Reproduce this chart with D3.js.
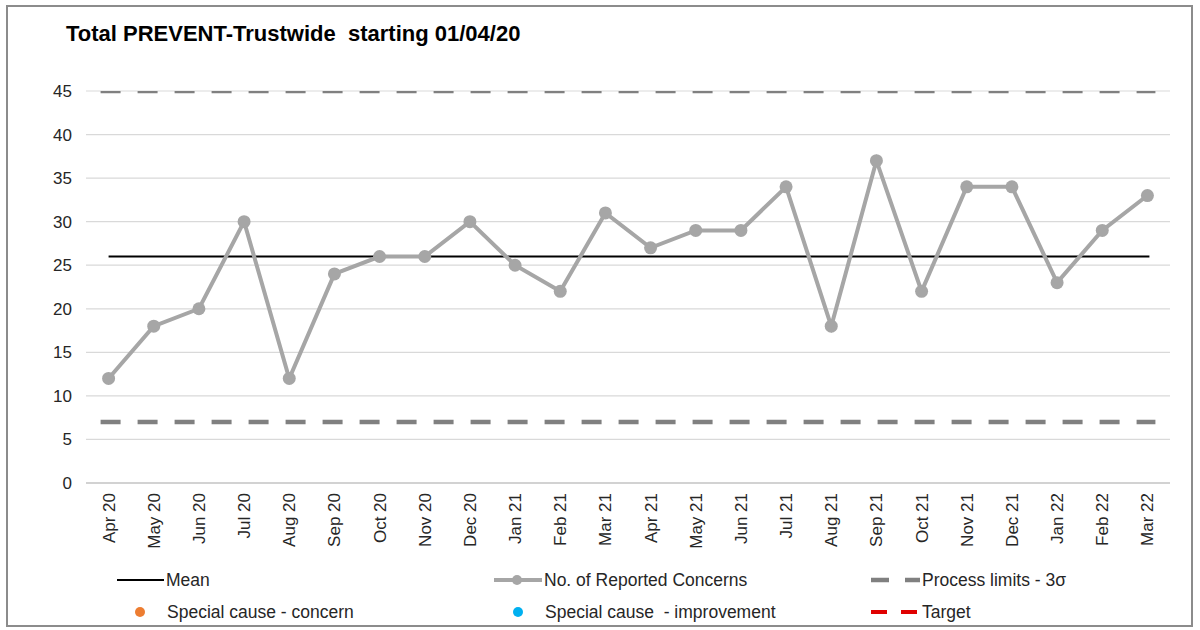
<!DOCTYPE html>
<html>
<head>
<meta charset="utf-8">
<script src="https://cdn.jsdelivr.net/npm/d3@7"></script>
<style>
  body { margin: 0; background: #fff; }
  text { font-family: "Liberation Sans", Arial, sans-serif; white-space: pre; }
</style>
</head>
<body>
<svg id="chart" width="1200" height="630"></svg>
<script>
// data
const months = ["Apr 20", "May 20", "Jun 20", "Jul 20", "Aug 20", "Sep 20", "Oct 20", "Nov 20",
  "Dec 20", "Jan 21", "Feb 21", "Mar 21", "Apr 21", "May 21", "Jun 21", "Jul 21", "Aug 21",
  "Sep 21", "Oct 21", "Nov 21", "Dec 21", "Jan 22", "Feb 22", "Mar 22"];
const concerns = [12, 18, 20, 30, 12, 24, 26, 26, 30, 25, 22, 31, 27, 29, 29, 34, 18, 37, 22, 34, 34, 23, 29, 33];
const meanValue = 26;
const upperLimit = 45;
const lowerLimit = 7;
const yTicks = [0, 5, 10, 15, 20, 25, 30, 35, 40, 45];

const margin = { left: 86, right: 30, top: 91, bottom: 147 };
const width = 1200 - margin.left - margin.right;
const height = 630 - margin.top - margin.bottom;

const svg = d3.select("#chart");

// outer frame
svg.append("rect")
  .attr("x", 7).attr("y", 6)
  .attr("width", 1185).attr("height", 620)
  .attr("fill", "none")
  .attr("stroke", "#8c8c8c")
  .attr("stroke-width", 2);

svg.append("text")
  .attr("x", 66).attr("y", 41)
  .attr("font-size", 22)
  .attr("font-weight", "bold")
  .attr("fill", "#000")
  .text("Total PREVENT-Trustwide  starting 01/04/20");

const xScale = d3.scaleBand().domain(months).range([0, width]);
const yScale = d3.scaleLinear().domain([0, 45]).range([height, 0]);

const g = svg.append("g").attr("transform", `translate(${margin.left},${margin.top})`);

svg.append("clipPath").attr("id", "plot-clip")
  .append("rect").attr("x", 0).attr("y", 0).attr("width", width).attr("height", height);

// gridlines
g.append("g")
  .selectAll("line")
  .data(yTicks)
  .join("line")
  .attr("x1", 0).attr("x2", width)
  .attr("y1", (d) => yScale(d)).attr("y2", (d) => yScale(d))
  .attr("stroke", (d) => d === 0 ? "#a6a6a6" : "#d9d9d9")
  .attr("stroke-width", 1.2);

// y tick labels
g.append("g")
  .selectAll("text")
  .data(yTicks)
  .join("text")
  .attr("x", -14)
  .attr("y", (d) => yScale(d))
  .attr("dy", "0.35em")
  .attr("text-anchor", "end")
  .attr("font-size", 17)
  .attr("fill", "#262626")
  .text((d) => d);

// x tick labels, rotated
g.append("g")
  .selectAll("text")
  .data(months)
  .join("text")
  .attr("transform", (d) => `translate(${xScale(d) + xScale.bandwidth() / 2 + 6},${height + 10}) rotate(-90)`)
  .attr("text-anchor", "end")
  .attr("font-size", 17)
  .attr("fill", "#262626")
  .text((d) => d);

const first = xScale(months[0]) + xScale.bandwidth() / 2;
const last = xScale(months[months.length - 1]) + xScale.bandwidth() / 2;

// process limits
const limits = g.append("g").attr("clip-path", "url(#plot-clip)");
limits.selectAll("line")
  .data([upperLimit, lowerLimit])
  .join("line")
  .attr("x1", first - 8).attr("x2", last + 8)
  .attr("y1", (d) => yScale(d)).attr("y2", (d) => yScale(d))
  .attr("stroke", "#808080")
  .attr("stroke-width", 4.5)
  .attr("stroke-dasharray", "20,17");

// mean line
g.append("line")
  .attr("x1", first).attr("x2", last + 2)
  .attr("y1", yScale(meanValue)).attr("y2", yScale(meanValue))
  .attr("stroke", "#000")
  .attr("stroke-width", 2);

// series
const line = d3.line()
  .x((d, i) => xScale(months[i]) + xScale.bandwidth() / 2)
  .y((d) => yScale(d));

g.append("path")
  .datum(concerns)
  .attr("d", line)
  .attr("fill", "none")
  .attr("stroke", "#a6a6a6")
  .attr("stroke-width", 4);

g.selectAll(".pt")
  .data(concerns)
  .join("circle")
  .attr("class", "pt")
  .attr("cx", (d, i) => xScale(months[i]) + xScale.bandwidth() / 2)
  .attr("cy", (d) => yScale(d))
  .attr("r", 6.5)
  .attr("fill", "#a6a6a6");

// legend
const legend = svg.append("g").attr("font-size", 17.5).attr("fill", "#262626");
const row1 = 580, row2 = 612;

legend.append("line").attr("x1", 117).attr("x2", 164).attr("y1", row1).attr("y2", row1)
  .attr("stroke", "#000").attr("stroke-width", 2);
legend.append("text").attr("x", 166).attr("y", row1).attr("dy", "0.35em").text("Mean");

legend.append("line").attr("x1", 494).attr("x2", 542).attr("y1", row1).attr("y2", row1)
  .attr("stroke", "#a6a6a6").attr("stroke-width", 4);
legend.append("circle").attr("cx", 517).attr("cy", row1).attr("r", 5).attr("fill", "#a6a6a6");
legend.append("text").attr("x", 544).attr("y", row1).attr("dy", "0.35em").text("No. of Reported Concerns");

legend.append("line").attr("x1", 871).attr("x2", 920).attr("y1", row1).attr("y2", row1)
  .attr("stroke", "#808080").attr("stroke-width", 4.5).attr("stroke-dasharray", "18,16");
legend.append("text").attr("x", 922).attr("y", row1).attr("dy", "0.35em").text("Process limits - 3σ");

legend.append("circle").attr("cx", 140).attr("cy", row2).attr("r", 5).attr("fill", "#ed7d31");
legend.append("text").attr("x", 167).attr("y", row2).attr("dy", "0.35em").text("Special cause - concern");

legend.append("circle").attr("cx", 518).attr("cy", row2).attr("r", 5).attr("fill", "#00b0f0");
legend.append("text").attr("x", 545).attr("y", row2).attr("dy", "0.35em").text("Special cause  - improvement");

legend.append("line").attr("x1", 871).attr("x2", 920).attr("y1", row2).attr("y2", row2)
  .attr("stroke", "#e00000").attr("stroke-width", 4).attr("stroke-dasharray", "16,14");
legend.append("text").attr("x", 922).attr("y", row2).attr("dy", "0.35em").text("Target");
</script>
</body>
</html>
